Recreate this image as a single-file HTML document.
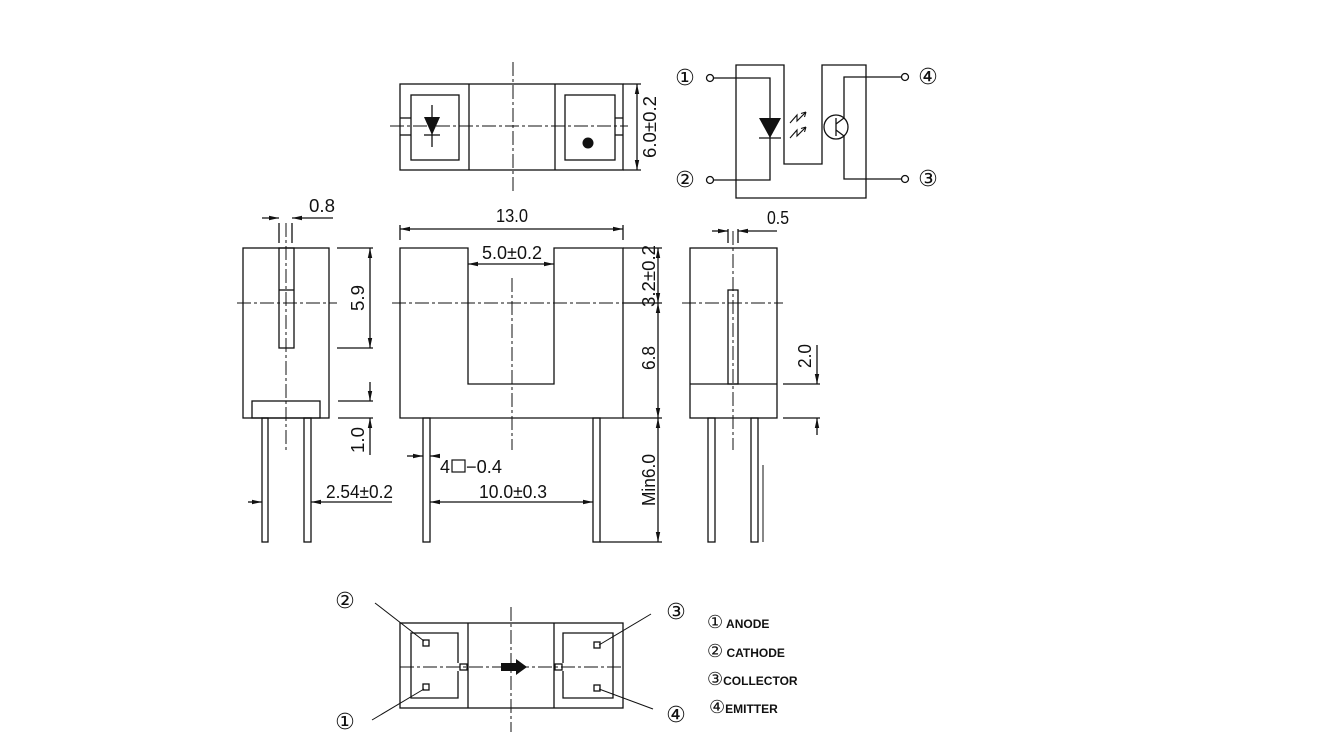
<!DOCTYPE html>
<html><head><meta charset="utf-8"><style>
html,body{margin:0;padding:0;background:#fff}
svg{display:block}
text{font-family:"Liberation Sans","DejaVu Sans",sans-serif;fill:#111}
</style></head><body>
<svg width="1330" height="737" viewBox="0 0 1330 737" xmlns="http://www.w3.org/2000/svg">
<defs>
<marker id="a" viewBox="0 0 10 6" refX="10" refY="3" markerWidth="10" markerHeight="6" orient="auto-start-reverse" markerUnits="userSpaceOnUse"><path d="M0,0.8 L10,3 L0,5.2 z" fill="#111"/></marker>
</defs>
<g fill="none" stroke="#111" stroke-width="1.3">
<!-- TOP VIEW -->
<rect x="400" y="84" width="223" height="86"/>
<line x1="469" y1="84" x2="469" y2="170"/><line x1="555" y1="84" x2="555" y2="170"/>
<rect x="411" y="95" width="48" height="65"/>
<rect x="565" y="95" width="50" height="65"/>
<line x1="400" y1="118" x2="411" y2="118"/><line x1="400" y1="135" x2="411" y2="135"/>
<line x1="615" y1="118" x2="623" y2="118"/><line x1="615" y1="135" x2="623" y2="135"/>
<line x1="390" y1="126" x2="628" y2="126" stroke-dasharray="14,3,3,3" stroke-width="1"/>
<line x1="513" y1="62" x2="513" y2="192" stroke-dasharray="14,3,3,3" stroke-width="1"/>
<line x1="432" y1="105" x2="432" y2="147"/>
<line x1="424" y1="135" x2="440" y2="135"/>
<line x1="623" y1="84" x2="641" y2="84"/><line x1="623" y1="170" x2="641" y2="170"/>
<line x1="637" y1="84" x2="637" y2="170" marker-start="url(#a)" marker-end="url(#a)"/>
<!-- SCHEMATIC -->
<path d="M736,65 H784 V164 H822 V65 H866 V198 H736 Z"/>
<circle cx="710" cy="78" r="3.5"/><circle cx="710" cy="180" r="3.5"/>
<circle cx="905" cy="77" r="3.5"/><circle cx="905" cy="179" r="3.5"/>
<path d="M714,78 H770 V180 H714"/>
<line x1="759" y1="138" x2="781" y2="138"/>
<circle cx="836" cy="127" r="12"/>
<path d="M901,77 H844 V118 M844,136 V179 H901"/>
<line x1="836" y1="118" x2="836" y2="136"/>
<line x1="836" y1="124" x2="844" y2="118"/><line x1="836" y1="130" x2="844" y2="136"/>
<path d="M790,123 l7,-8 v6 l9,-9 M806,112 l-5,1.5 M806,112 l-1.5,5" stroke-width="1.1"/>
<path d="M790,138 l7,-8 v6 l9,-9 M806,127 l-5,1.5 M806,127 l-1.5,5" stroke-width="1.1"/>
<!-- LEFT SIDE VIEW -->
<rect x="243" y="248" width="86" height="170"/>
<rect x="279" y="248" width="15" height="100"/>
<line x1="279" y1="290" x2="294" y2="290"/>
<rect x="252" y="401" width="68" height="17"/>
<line x1="286" y1="223" x2="286" y2="450" stroke-dasharray="14,3,3,3" stroke-width="1"/>
<line x1="237" y1="303" x2="337" y2="303" stroke-dasharray="14,3,3,3" stroke-width="1"/>
<rect x="262" y="418" width="6" height="124"/><rect x="304" y="418" width="7" height="124"/>
<line x1="279" y1="223" x2="279" y2="243"/><line x1="292" y1="223" x2="292" y2="243"/>
<line x1="262" y1="218" x2="279" y2="218" marker-end="url(#a)"/>
<line x1="333" y1="218" x2="292" y2="218" marker-end="url(#a)"/>
<line x1="337" y1="248" x2="373" y2="248"/><line x1="337" y1="348" x2="373" y2="348"/>
<line x1="370" y1="248" x2="370" y2="348" marker-start="url(#a)" marker-end="url(#a)"/>
<line x1="338" y1="401" x2="373" y2="401"/><line x1="338" y1="418" x2="373" y2="418"/>
<line x1="370" y1="382" x2="370" y2="401" marker-end="url(#a)"/>
<line x1="370" y1="455" x2="370" y2="418" marker-end="url(#a)"/>
<line x1="248" y1="502" x2="262" y2="502" marker-end="url(#a)"/>
<line x1="392" y1="502" x2="311" y2="502" marker-end="url(#a)"/>
<!-- FRONT VIEW -->
<path d="M400,248 H468 V384 H554 V248 H623 V418 H400 Z"/>
<line x1="512" y1="278" x2="512" y2="450" stroke-dasharray="14,3,3,3" stroke-width="1"/>
<line x1="392" y1="303" x2="640" y2="303" stroke-dasharray="14,3,3,3" stroke-width="1"/>
<rect x="423" y="418" width="7" height="124"/><rect x="593" y="418" width="7" height="124"/>
<line x1="400" y1="225" x2="400" y2="240"/><line x1="623" y1="225" x2="623" y2="240"/>
<line x1="400" y1="229" x2="623" y2="229" marker-start="url(#a)" marker-end="url(#a)"/>
<line x1="468" y1="264" x2="554" y2="264" marker-start="url(#a)" marker-end="url(#a)"/>
<line x1="623" y1="248" x2="662" y2="248"/><line x1="623" y1="303" x2="662" y2="303"/>
<line x1="623" y1="418" x2="662" y2="418"/><line x1="600" y1="542" x2="662" y2="542"/>
<line x1="658" y1="248" x2="658" y2="303" marker-start="url(#a)" marker-end="url(#a)"/>
<line x1="658" y1="303" x2="658" y2="418" marker-start="url(#a)" marker-end="url(#a)"/>
<line x1="658" y1="418" x2="658" y2="542" marker-start="url(#a)" marker-end="url(#a)"/>
<line x1="407" y1="456" x2="423" y2="456" marker-end="url(#a)"/>
<line x1="440" y1="456" x2="430" y2="456" marker-end="url(#a)"/>
<line x1="430" y1="502" x2="593" y2="502" marker-start="url(#a)" marker-end="url(#a)"/>
<!-- RIGHT SIDE VIEW -->
<rect x="690" y="248" width="87" height="170"/>
<line x1="690" y1="384" x2="777" y2="384"/>
<rect x="728" y="290" width="10" height="94"/>
<line x1="733" y1="231" x2="733" y2="450" stroke-dasharray="14,3,3,3" stroke-width="1"/>
<line x1="682" y1="303" x2="783" y2="303" stroke-dasharray="14,3,3,3" stroke-width="1"/>
<rect x="708" y="418" width="7" height="124"/><rect x="751" y="418" width="7" height="124"/>
<line x1="763" y1="465" x2="763" y2="542" stroke-width="1"/>
<line x1="728" y1="229" x2="728" y2="243"/><line x1="738" y1="229" x2="738" y2="243"/>
<line x1="712" y1="231" x2="728" y2="231" marker-end="url(#a)"/>
<line x1="777" y1="231" x2="738" y2="231" marker-end="url(#a)"/>
<line x1="783" y1="384" x2="820" y2="384"/><line x1="783" y1="418" x2="820" y2="418"/>
<line x1="817" y1="345" x2="817" y2="384" marker-end="url(#a)"/>
<line x1="817" y1="435" x2="817" y2="418" marker-end="url(#a)"/>
<!-- BOTTOM VIEW -->
<rect x="400" y="623" width="223" height="85"/>
<line x1="468" y1="623" x2="468" y2="708"/><line x1="554" y1="623" x2="554" y2="708"/>
<path d="M458,663 V633 H411 V698 H458 V671"/>
<path d="M563,663 V633 H613 V698 H563 V671"/>
<line x1="400" y1="667" x2="623" y2="667" stroke-dasharray="14,3,3,3" stroke-width="1"/>
<line x1="511" y1="607" x2="511" y2="732" stroke-dasharray="14,3,3,3" stroke-width="1"/>
<rect x="423" y="640" width="6" height="6"/><rect x="423" y="684" width="6" height="6"/>
<rect x="594" y="642" width="6" height="6"/><rect x="594" y="685" width="6" height="6"/>
<rect x="460" y="664" width="7" height="6"/><rect x="555" y="664" width="7" height="6"/>
<line x1="375" y1="603" x2="424" y2="641" stroke-width="1"/>
<line x1="372" y1="720" x2="424" y2="689" stroke-width="1"/>
<line x1="651" y1="614" x2="599" y2="645" stroke-width="1"/>
<line x1="653" y1="709" x2="599" y2="689" stroke-width="1"/>
</g>
<g fill="#111">
<path d="M424,117 L440,117 L432,135 Z"/>
<circle cx="588" cy="143" r="5.5"/>
<path d="M759,118 L781,118 L770,138 Z"/>
<path d="M501,663 H516 V659 L527,667 L516,675 V671 H501 Z"/>
</g>
<g font-size="18">
<text x="656" y="127" text-anchor="middle" transform="rotate(-90 656 127)" textLength="62" lengthAdjust="spacingAndGlyphs">6.0±0.2</text>
<text x="309" y="212" textLength="26" lengthAdjust="spacingAndGlyphs">0.8</text>
<text x="512" y="222" text-anchor="middle" textLength="32" lengthAdjust="spacingAndGlyphs">13.0</text>
<text x="512" y="259" text-anchor="middle" textLength="60" lengthAdjust="spacingAndGlyphs">5.0±0.2</text>
<text x="364" y="298" text-anchor="middle" transform="rotate(-90 364 298)" textLength="26" lengthAdjust="spacingAndGlyphs">5.9</text>
<text x="364" y="440" text-anchor="middle" transform="rotate(-90 364 440)" textLength="26" lengthAdjust="spacingAndGlyphs">1.0</text>
<text x="326" y="498" textLength="67" lengthAdjust="spacingAndGlyphs">2.54±0.2</text>
<text x="655" y="276" text-anchor="middle" transform="rotate(-90 655 276)" textLength="62" lengthAdjust="spacingAndGlyphs">3.2±0.2</text>
<text x="655" y="358" text-anchor="middle" transform="rotate(-90 655 358)" textLength="24" lengthAdjust="spacingAndGlyphs">6.8</text>
<text x="655" y="480" text-anchor="middle" transform="rotate(-90 655 480)" textLength="52" lengthAdjust="spacingAndGlyphs">Min6.0</text>
<text x="440" y="473" textLength="10" lengthAdjust="spacingAndGlyphs">4</text>
<text x="466" y="473" textLength="36" lengthAdjust="spacingAndGlyphs">−0.4</text>
<text x="479" y="498" textLength="68" lengthAdjust="spacingAndGlyphs">10.0±0.3</text>
<text x="767" y="224" textLength="22" lengthAdjust="spacingAndGlyphs">0.5</text>
<text x="811" y="356" text-anchor="middle" transform="rotate(-90 811 356)" textLength="24" lengthAdjust="spacingAndGlyphs">2.0</text>
</g>
<rect x="452" y="460" width="13" height="12" fill="none" stroke="#111" stroke-width="1.2"/>
<g font-size="22" font-family="'DejaVu Sans',sans-serif">
<text x="685" y="85" text-anchor="middle">①</text>
<text x="685" y="187" text-anchor="middle">②</text>
<text x="928" y="84" text-anchor="middle">④</text>
<text x="928" y="186" text-anchor="middle">③</text>
<text x="345" y="608" text-anchor="middle">②</text>
<text x="345" y="729" text-anchor="middle">①</text>
<text x="676" y="619" text-anchor="middle">③</text>
<text x="676" y="722" text-anchor="middle">④</text>
</g>
<g font-size="12" font-weight="bold" font-family="'Liberation Serif','DejaVu Serif',serif">
<text x="707" y="628"><tspan font-size="18" font-weight="normal" font-family="'DejaVu Sans',sans-serif">①</tspan> ANODE</text>
<text x="707" y="657"><tspan font-size="18" font-weight="normal" font-family="'DejaVu Sans',sans-serif">②</tspan> CATHODE</text>
<text x="707" y="685"><tspan font-size="18" font-weight="normal" font-family="'DejaVu Sans',sans-serif">③</tspan>COLLECTOR</text>
<text x="709" y="713"><tspan font-size="18" font-weight="normal" font-family="'DejaVu Sans',sans-serif">④</tspan>EMITTER</text>
</g>
</svg>
</body></html>
